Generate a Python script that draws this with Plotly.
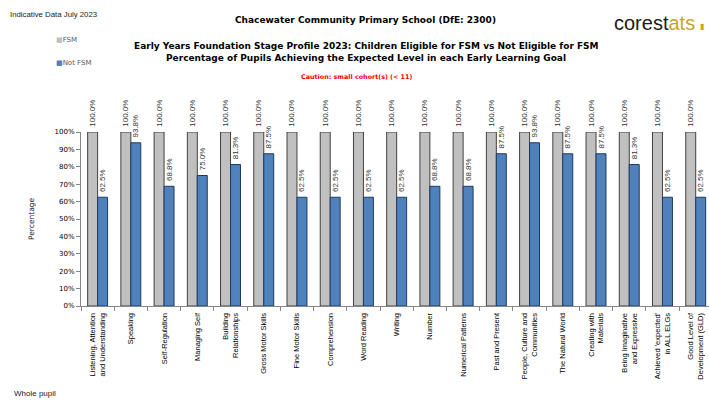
import plotly.graph_objects as go

categories = [
    "Listening, Attention<br>and Understanding",
    "Speaking",
    "Self-Regulation",
    "Managing Self",
    "Building<br>Relationships",
    "Gross Motor Skills",
    "Fine Motor Skills",
    "Comprehension",
    "Word Reading",
    "Writing",
    "Number",
    "Numerical Patterns",
    "Past and Present",
    "People, Culture and<br>Communities",
    "The Natural World",
    "Creating with<br>Materials",
    "Being Imaginative<br>and Expressive",
    "Achieved 'expected'<br>in ALL ELGs",
    "Good Level of<br>Development (GLD)",
]
fsm = [100.0] * 19
not_fsm = [62.5, 93.8, 68.8, 75.0, 81.3, 87.5, 62.5, 62.5, 62.5, 62.5,
           68.8, 68.8, 87.5, 93.8, 87.5, 87.5, 81.3, 62.5, 62.5]
y_ticks = [0, 10, 20, 30, 40, 50, 60, 70, 80, 90, 100]
y_tick_labels = [f"{v}%" for v in y_ticks]

GRAY = "#C0C0C0"
BLUE = "#4F81BD"
VERD = "DejaVu Sans, Verdana, sans-serif"
ARIAL = "Liberation Sans, Arial, sans-serif"

fig = go.Figure()
fig.add_trace(go.Bar(
    x=categories, y=fsm, name="FSM",
    marker=dict(color=GRAY, line=dict(color="#404040", width=1)),
    texttemplate=" %{y:.1f}%", textposition="outside", textangle=-90,
    textfont=dict(family=ARIAL, size=8, color="#333333"),
    constraintext="none", cliponaxis=False,
))
fig.add_trace(go.Bar(
    x=categories, y=not_fsm, name="Not FSM",
    marker=dict(color=BLUE, line=dict(color="#1F3A60", width=1)),
    texttemplate=" %{y:.1f}%", textposition="outside", textangle=-90,
    textfont=dict(family=ARIAL, size=8, color="#333333"),
    constraintext="none", cliponaxis=False,
))

L, T, B = 81, 132, 94
H = 400 - T - B
W = 709 - L

def px(xp):
    return (xp - L) / W

def py(yp):
    return (400 - B - yp) / H

ann = []
def add(text, x, y, size, family=VERD, color="#000000", xanchor="center", bold=False):
    if bold:
        text = "<b>" + text + "</b>"
    ann.append(dict(text=text, x=px(x), y=py(y), xref="paper", yref="paper",
                    showarrow=False, xanchor=xanchor, yanchor="middle",
                    font=dict(family=family, size=size, color=color)))

add("Indicative Data July 2023", 8, 14, 7.8, family=ARIAL, xanchor="left", color="#222222")
add("Chacewater Community Primary School (DfE: 2300)", 365, 20, 9, bold=True)
add("Early Years Foundation Stage Profile 2023: Children Eligible for FSM vs Not Eligible for FSM", 366, 46, 9, bold=True)
add("Percentage of Pupils Achieving the Expected Level in each Early Learning Goal", 366, 58, 9, bold=True)
add("Caution: small cohort(s) (< 11)", 356, 77, 6.4, color="#FF0000", bold=True)
add('<span style="color:#C0C0C0">■</span>FSM', 54, 40, 7, color="#595959", xanchor="left")
add('<span style="color:#4F81BD">■</span>Not FSM', 54, 63, 7, color="#595959", xanchor="left")
add("Percentage", 31, 219, 7.5, color="#222222")
ann[-1]["textangle"] = -90
add("Whole pupil", 12, 393, 8, family=ARIAL, xanchor="left", color="#222222")
add('<span style="color:#1a1a1a">corest</span><span style="color:#C9A227">ats</span>',
    612, 23, 20, family=ARIAL, xanchor="left")
add("▮", 698, 26, 8, family=ARIAL, color="#D4A017", xanchor="left")

fig.update_layout(
    width=709, height=400,
    margin=dict(l=L, r=0, t=T, b=B),
    paper_bgcolor="white", plot_bgcolor="white",
    barmode="group", bargap=0.4, bargroupgap=0.0,
    showlegend=False,
    annotations=ann,
    xaxis=dict(
        range=[-0.5, 18.4], showline=True, linecolor="#868686", linewidth=1,
        ticks="outside", tickson="boundaries", ticklen=4, tickcolor="#868686",
        tickangle=-90, tickfont=dict(family=ARIAL, size=7.5, color="#000000"),
        ticklabelstandoff=3,
        showgrid=False, fixedrange=True, automargin=False,
    ),
    yaxis=dict(
        range=[0, 100], tickmode="array", tickvals=y_ticks, ticktext=y_tick_labels,
        showline=True, linecolor="#868686", linewidth=1,
        ticks="outside", ticklen=4, tickcolor="#868686",
        tickfont=dict(family=VERD, size=7, color="#000000"),
        showgrid=False, zeroline=False, fixedrange=True, automargin=False,
    ),
)

fig.write_html("out.html", config={"displayModeBar": False},
               post_script="document.body.style.margin='0';")
